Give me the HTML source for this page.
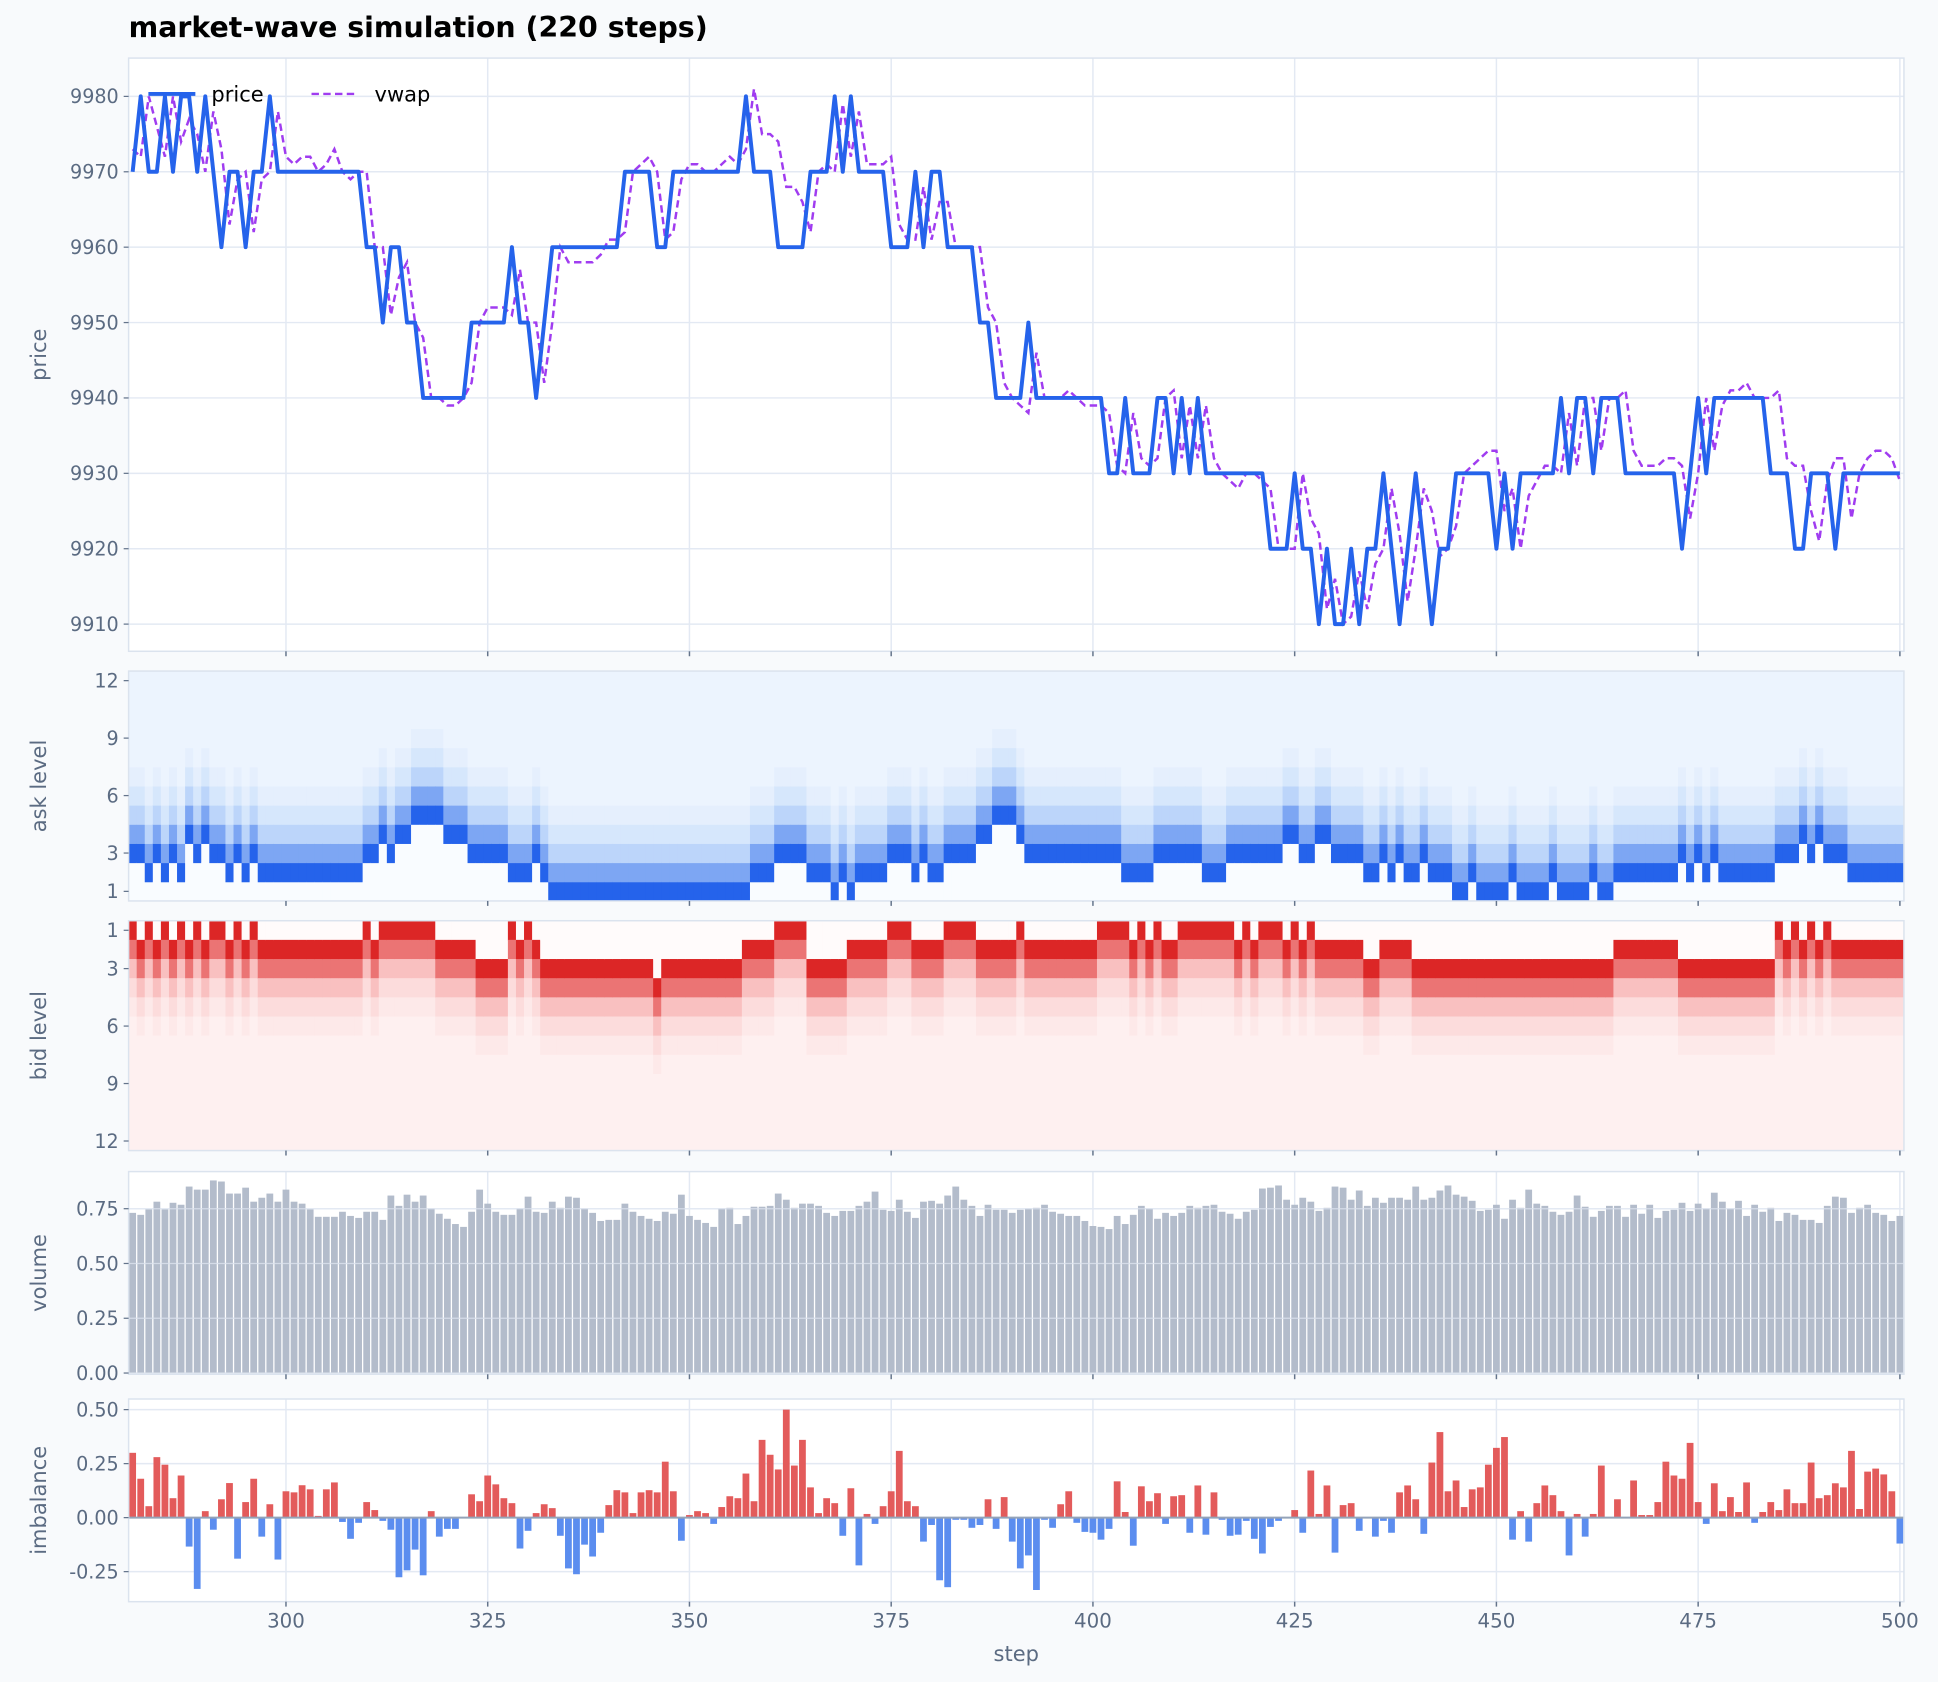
<!DOCTYPE html>
<html><head><meta charset="utf-8"><style>
html,body{margin:0;padding:0;background:#f8fafc;}
svg{display:block;font-family:"DejaVu Sans","Liberation Sans",sans-serif;}
</style></head><body>
<svg id="chart" width="1938" height="1682" viewBox="0 0 1568 1361" xmlns="http://www.w3.org/2000/svg">
<rect x="0" y="0" width="1568" height="1361" fill="#f8fafc"/>
<text x="104" y="30" font-size="23" font-weight="bold" fill="#000">market-wave simulation (220 steps)</text>
<g id="layer"></g>
</svg>
<script>
const steps = []; for (let s = 281; s <= 500; s++) steps.push(s);
const price = [9970,9980,9970,9970,9980,9970,9980,9980,9970,9980,
9970,9960,9970,9970,9960,9970,9970,9980,9970,9970,
9970,9970,9970,9970,9970,9970,9970,9970,9970,9960,
9960,9950,9960,9960,9950,9950,9940,9940,9940,9940,
9940,9940,9950,9950,9950,9950,9950,9960,9950,9950,
9940,9950,9960,9960,9960,9960,9960,9960,9960,9960,
9960,9970,9970,9970,9970,9960,9960,9970,9970,9970,
9970,9970,9970,9970,9970,9970,9980,9970,9970,9970,
9960,9960,9960,9960,9970,9970,9970,9980,9970,9980,
9970,9970,9970,9970,9960,9960,9960,9970,9960,9970,
9970,9960,9960,9960,9960,9950,9950,9940,9940,9940,
9940,9950,9940,9940,9940,9940,9940,9940,9940,9940,
9940,9930,9930,9940,9930,9930,9930,9940,9940,9930,
9940,9930,9940,9930,9930,9930,9930,9930,9930,9930,
9930,9920,9920,9920,9930,9920,9920,9910,9920,9910,
9910,9920,9910,9920,9920,9930,9920,9910,9920,9930,
9920,9910,9920,9920,9930,9930,9930,9930,9930,9920,
9930,9920,9930,9930,9930,9930,9930,9940,9930,9940,
9940,9930,9940,9940,9940,9930,9930,9930,9930,9930,
9930,9930,9920,9930,9940,9930,9940,9940,9940,9940,
9940,9940,9940,9930,9930,9930,9920,9920,9930,9930,
9930,9920,9930,9930,9930,9930,9930,9930,9930,9930];
const vwap = [9973,9972,9980,9976,9972,9980,9974,9977,9975,9970,
9978,9973,9963,9969,9970,9962,9969,9970,9978,9972,
9971,9972,9972,9970,9971,9973,9970,9969,9970,9970,
9960,9960,9951,9956,9958,9950,9948,9940,9940,9939,
9939,9940,9942,9950,9952,9952,9952,9951,9957,9950,
9950,9942,9950,9960,9958,9958,9958,9958,9959,9961,
9961,9962,9970,9971,9972,9970,9961,9962,9969,9971,
9971,9970,9970,9971,9972,9971,9973,9981,9975,9975,
9974,9968,9968,9966,9962,9970,9971,9970,9979,9972,
9978,9971,9971,9971,9972,9963,9961,9961,9968,9961,
9966,9966,9960,9960,9960,9960,9952,9950,9942,9940,
9939,9938,9946,9940,9940,9940,9941,9940,9939,9939,
9939,9938,9931,9930,9938,9932,9931,9932,9940,9941,
9932,9939,9932,9939,9932,9930,9929,9928,9930,9930,
9929,9928,9920,9920,9920,9930,9924,9922,9912,9916,
9910,9911,9917,9912,9918,9920,9928,9922,9913,9920,
9928,9925,9919,9920,9923,9930,9931,9932,9933,9933,
9925,9928,9920,9927,9929,9931,9931,9930,9938,9931,
9940,9940,9933,9940,9940,9941,9933,9931,9931,9931,
9932,9932,9931,9924,9930,9940,9933,9939,9941,9941,
9942,9940,9940,9940,9941,9932,9931,9931,9925,9921,
9929,9932,9932,9924,9930,9932,9933,9933,9932,9929];
const volume = [0.731,0.722,0.747,0.782,0.747,0.777,0.768,0.851,0.837,0.837,
0.879,0.874,0.819,0.819,0.846,0.782,0.800,0.819,0.782,0.837,
0.782,0.773,0.747,0.713,0.713,0.713,0.736,0.717,0.708,0.736,
0.736,0.699,0.810,0.763,0.814,0.782,0.810,0.750,0.727,0.704,
0.680,0.667,0.736,0.837,0.773,0.736,0.722,0.722,0.750,0.805,
0.736,0.731,0.782,0.754,0.805,0.800,0.750,0.731,0.694,0.699,
0.699,0.773,0.736,0.717,0.704,0.694,0.736,0.727,0.814,0.717,
0.699,0.685,0.667,0.750,0.754,0.680,0.717,0.759,0.759,0.763,
0.819,0.791,0.754,0.773,0.773,0.763,0.731,0.717,0.740,0.740,
0.763,0.782,0.828,0.745,0.740,0.791,0.736,0.708,0.782,0.786,
0.773,0.810,0.851,0.791,0.763,0.717,0.768,0.745,0.745,0.731,
0.745,0.750,0.754,0.768,0.736,0.727,0.717,0.717,0.694,0.671,
0.667,0.657,0.717,0.680,0.722,0.763,0.750,0.704,0.731,0.717,
0.731,0.763,0.754,0.763,0.768,0.736,0.727,0.704,0.736,0.745,
0.842,0.846,0.856,0.791,0.768,0.800,0.782,0.740,0.754,0.851,
0.846,0.791,0.833,0.763,0.800,0.777,0.800,0.800,0.791,0.851,
0.791,0.800,0.833,0.856,0.814,0.805,0.786,0.740,0.745,0.768,
0.704,0.791,0.754,0.837,0.773,0.763,0.736,0.722,0.736,0.810,
0.759,0.713,0.740,0.763,0.763,0.713,0.768,0.727,0.768,0.708,
0.740,0.745,0.777,0.740,0.773,0.750,0.823,0.782,0.750,0.786,
0.717,0.768,0.736,0.754,0.694,0.731,0.722,0.699,0.699,0.685,
0.763,0.805,0.800,0.731,0.754,0.768,0.731,0.722,0.694,0.717];
const imbalance = [0.30,0.18,0.053,0.28,0.245,0.09,0.195,-0.134,-0.33,0.03,
-0.056,0.085,0.16,-0.19,0.072,0.18,-0.088,0.062,-0.194,0.122,
0.117,0.15,0.131,0.008,0.131,0.163,-0.02,-0.098,-0.024,0.072,
0.035,-0.015,-0.056,-0.276,-0.244,-0.148,-0.267,0.03,-0.088,-0.052,
-0.052,0.0,0.108,0.076,0.195,0.154,0.09,0.067,-0.143,-0.061,
0.021,0.062,0.044,-0.084,-0.235,-0.262,-0.125,-0.18,-0.07,0.058,
0.127,0.117,0.021,0.117,0.127,0.117,0.259,0.122,-0.107,0.012,
0.03,0.021,-0.029,0.049,0.099,0.09,0.204,0.076,0.36,0.291,
0.223,0.5,0.241,0.36,0.14,0.021,0.09,0.067,-0.084,0.136,
-0.221,0.017,-0.029,0.053,0.122,0.309,0.076,0.053,-0.111,-0.034,
-0.29,-0.322,-0.01,-0.01,-0.047,-0.034,0.085,-0.052,0.095,-0.111,
-0.235,-0.175,-0.335,-0.01,-0.047,0.062,0.122,-0.024,-0.066,-0.07,
-0.102,-0.052,0.168,0.026,-0.13,0.145,0.076,0.113,-0.029,0.099,
0.104,-0.07,0.149,-0.079,0.117,-0.01,-0.084,-0.079,-0.015,-0.098,
-0.166,-0.043,-0.015,0.0,0.035,-0.07,0.218,0.017,0.149,-0.162,
0.058,0.067,-0.061,0.0,-0.088,-0.015,-0.07,0.117,0.149,0.085,
-0.075,0.255,0.396,0.122,0.172,0.049,0.131,0.14,0.245,0.323,
0.373,-0.102,0.03,-0.111,0.067,0.149,0.104,0.03,-0.175,0.017,
-0.088,0.017,0.241,0.0,0.085,0.0,0.172,0.012,0.012,0.072,
0.259,0.195,0.18,0.346,0.072,-0.029,0.159,0.03,0.095,0.026,
0.163,-0.024,0.026,0.072,0.035,0.131,0.067,0.067,0.255,0.09,
0.104,0.159,0.14,0.309,0.04,0.213,0.227,0.2,0.122,-0.12];
// darkest book level per step (1 = best)
const askPeak = ("332323243433"+"232322"+"22222222222"+"3343445555444"+"3333322232"+
"1111111111111111111111111"+"222333322212122223332322333344555"+
"4"+"333333333"+"333222233333322233333"+"334433443333"+"22323223222"+
"112111121111211112112"+"2222222"+"323232222222"+"333434333"+"2222222").split("").map(Number);
const bidPeak = ("121212121211"+"212122"+"22222222222"+"1211111112222"+"233331212"+
"33333333333"+"33343333333333"+"2222"+"1111"+"33333"+"22222"+"111"+"2222"+"1111"+"22222"+
"1222222222"+"111"+"121212211111112121"+"112121222222332222"+
"33333333333333333333333332"+"2222222"+"333333333333"+"121212122"+"2222222").split("").map(Number);
const levels = [1,2,3,4,5,6,7,8,9,10,11,12];
const xTicks = [300,325,350,375,400,425,450,475,500];
const priceTicks = [9910,9920,9930,9940,9950,9960,9970,9980];
const levelTicks = [1,3,6,9,12];
const volTicks = [0,0.25,0.5,0.75];
const imbTicks = [-0.25,0,0.25,0.5];

const NS = "http://www.w3.org/2000/svg";
const layer = document.getElementById("layer");
function mk(tag, attrs, parent) {
  const e = document.createElementNS(NS, tag);
  for (const k in attrs) e.setAttribute(k, attrs[k]);
  (parent || layer).appendChild(e);
  return e;
}
const X0 = 104, X1 = 1540.5, XMIN = 280.5, XMAX = 500.5;
const xs = v => X0 + (v - XMIN) / (XMAX - XMIN) * (X1 - X0);
const stepW = (X1 - X0) / (XMAX - XMIN);
const P = {top:47, bot:527}, A = {top:543, bot:729}, B = {top:745, bot:931}, V = {top:948, bot:1112}, I = {top:1132, bot:1296};
const yPrice = v => 78 + (9980 - v) * 6.1;
const yVol = v => 1111 - v * 177.3;
const yImb = v => 1228 - v * 174.8;
const rowH = (A.bot - A.top) / 12;
const yAsk = L => A.bot - L * rowH;
const yBid = L => B.top + (L - 1) * rowH;

function panel(p, name, grid) {
  const r = mk("rect", {x:X0, y:p.top, width:X1-X0, height:p.bot-p.top, fill:"#ffffff"});
  
  
  if (grid) xTicks.forEach(t => {
    const l = mk("line", {x1:xs(t), x2:xs(t), y1:p.top, y2:p.bot, stroke:"#e3e9f3", "stroke-width":1.2});
    
    
  });
}
function frame(p, name) {
  const r = mk("rect", {x:X0, y:p.top, width:X1-X0, height:p.bot-p.top, fill:"none", stroke:"#dbe3ee", "stroke-width":1.2});
  
  
  xTicks.forEach(t => {
    const l = mk("line", {x1:xs(t), x2:xs(t), y1:p.bot, y2:p.bot+4, stroke:"#64748b", "stroke-width":1.2});
    
    
  });
}
function yTick(y, label, name) {
  const l = mk("line", {x1:X0-4, x2:X0, y1:y, y2:y, stroke:"#64748b", "stroke-width":1});
  
  
  const t = mk("text", {x:X0-8, y:y+5.5, "font-size":15.5, fill:"#5b6b82", "text-anchor":"end"});
  t.textContent = label;
  
  
}
function yGrid(y, name) {
  const l = mk("line", {x1:X0, x2:X1, y1:y, y2:y, stroke:"#e3e9f3", "stroke-width":1.2});
  
  
}
function yTitle(p, label, name) {
  const cy = (p.top + p.bot) / 2;
  const t = mk("text", {x:37, y:cy, "font-size":17, fill:"#5b6b82", "text-anchor":"middle", transform:`rotate(-90 37 ${cy})`});
  t.textContent = label;
  
  
}
function lerp(a, b, t) { return a.map((v, i) => Math.round(v + (b[i] - v) * t)); }
function ramp(stops, t) {
  t = Math.max(0, Math.min(1, t));
  for (let i = 1; i < stops.length; i++) {
    if (t <= stops[i][0]) {
      const f = (t - stops[i-1][0]) / (stops[i][0] - stops[i-1][0]);
      const c = lerp(stops[i-1][1], stops[i][1], f);
      return `rgb(${c[0]},${c[1]},${c[2]})`;
    }
  }
  const c = stops[stops.length-1][1]; return `rgb(${c[0]},${c[1]},${c[2]})`;
}
const blueStops = [[0,[255,255,255]],[0.1,[236,244,254]],[0.35,[197,220,251]],[0.6,[130,170,243]],[1,[37,99,235]]];
const redStops = [[0,[255,255,255]],[0.1,[254,240,240]],[0.35,[251,204,204]],[0.6,[236,120,120]],[1,[220,38,38]]];
function intensity(L, peak) {
  if (L < peak) return 0.03;
  const d = L - peak;
  if (d === 0) return 1;
  return Math.max(0.1, 0.62 * Math.pow(0.62, d - 1));
}

// ---------- price panel ----------
panel(P, "price", true);
priceTicks.forEach(v => { yGrid(yPrice(v), "price"); });
const pricePts = steps.map((s, i) => `${xs(s).toFixed(2)},${yPrice(price[i]).toFixed(2)}`).join(" ");
const vwapPts = steps.map((s, i) => `${xs(s).toFixed(2)},${yPrice(vwap[i]).toFixed(2)}`).join(" ");
const vl = mk("polyline", {points:vwapPts, fill:"none", stroke:"#a03cf0", "stroke-width":2, "stroke-dasharray":"6 3.5"});


const pl = mk("polyline", {points:pricePts, fill:"none", stroke:"#2563eb", "stroke-width":3.2, "stroke-linejoin":"round"});


frame(P, "price");
priceTicks.forEach(v => yTick(yPrice(v), String(v), "price-y"));
yTitle(P, "price", "price-y-axis-title");
// legend
const lg = mk("g", {});


const l1 = mk("line", {x1:120, x2:158, y1:76, y2:76, stroke:"#2563eb", "stroke-width":3.2}, lg);


const t1 = mk("text", {x:171, y:82, "font-size":17, fill:"#000"}, lg); t1.textContent = "price";


const l2 = mk("line", {x1:252, x2:290, y1:76, y2:76, stroke:"#a03cf0", "stroke-width":2, "stroke-dasharray":"6 3.5"}, lg);


const t2 = mk("text", {x:303, y:82, "font-size":17, fill:"#000"}, lg); t2.textContent = "vwap";



// ---------- ask heatmap ----------
panel(A, "ask", false);
steps.forEach((s, i) => {
  levels.forEach(L => {
    const r = mk("rect", {x:xs(s - 0.5), y:yAsk(L), width:stepW + 0.4, height:rowH + 0.4, fill:ramp(blueStops, intensity(L, askPeak[i] || 2))});
    
    
  });
});
frame(A, "ask");
levelTicks.forEach(L => yTick(yAsk(L) + rowH / 2, String(L), "ask-y"));
yTitle(A, "ask level", "ask-y-axis-title");

// ---------- bid heatmap ----------
panel(B, "bid", false);
steps.forEach((s, i) => {
  levels.forEach(L => {
    const r = mk("rect", {x:xs(s - 0.5), y:yBid(L), width:stepW + 0.4, height:rowH + 0.4, fill:ramp(redStops, intensity(L, bidPeak[i] || 2))});
    
    
  });
});
frame(B, "bid");
levelTicks.forEach(L => yTick(yBid(L) + rowH / 2, String(L), "bid-y"));
yTitle(B, "bid level", "bid-y-axis-title");

// ---------- volume ----------
panel(V, "volume", true);
volTicks.forEach(v => yGrid(yVol(v), "volume"));
steps.forEach((s, i) => {
  const r = mk("rect", {x:xs(s) - stepW*0.42, y:yVol(volume[i]), width:stepW*0.84, height:yVol(0) - yVol(volume[i]), fill:"#b3bccb"});
  
  
});
volTicks.forEach(v => { const g = mk("line", {x1:X0, x2:X1, y1:yVol(v), y2:yVol(v), stroke:"#e3e9f3", "stroke-width":1, opacity:0.7});   });
frame(V, "volume");
volTicks.forEach(v => yTick(yVol(v), v.toFixed(2), "volume-y"));
yTitle(V, "volume", "volume-y-axis-title");

// ---------- imbalance ----------
panel(I, "imbalance", true);
imbTicks.forEach(v => yGrid(yImb(v), "imbalance"));
steps.forEach((s, i) => {
  const v = imbalance[i];
  const y0 = yImb(0), y1 = yImb(v);
  const r = mk("rect", {x:xs(s) - stepW*0.42, y:Math.min(y0, y1), width:stepW*0.84, height:Math.abs(y1 - y0), fill: v >= 0 ? "#e35b5b" : "#5b8def"});
  
  
});
const zl = mk("line", {x1:X0, x2:X1, y1:yImb(0), y2:yImb(0), stroke:"#94a3b8", "stroke-width":1.6});


frame(I, "imbalance");
imbTicks.forEach(v => yTick(yImb(v), v.toFixed(2), "imbalance-y"));
yTitle(I, "imbalance", "imbalance-y-axis-title");

// x tick labels
xTicks.forEach(t => {
  const tx = mk("text", {x:xs(t), y:1317, "font-size":16, fill:"#5b6b82", "text-anchor":"middle"});
  tx.textContent = String(t);
  
  
});
const xt = mk("text", {x:(X0 + X1) / 2, y:1344, "font-size":17, fill:"#5b6b82", "text-anchor":"middle"});
xt.textContent = "step";


</script>
</body></html>
